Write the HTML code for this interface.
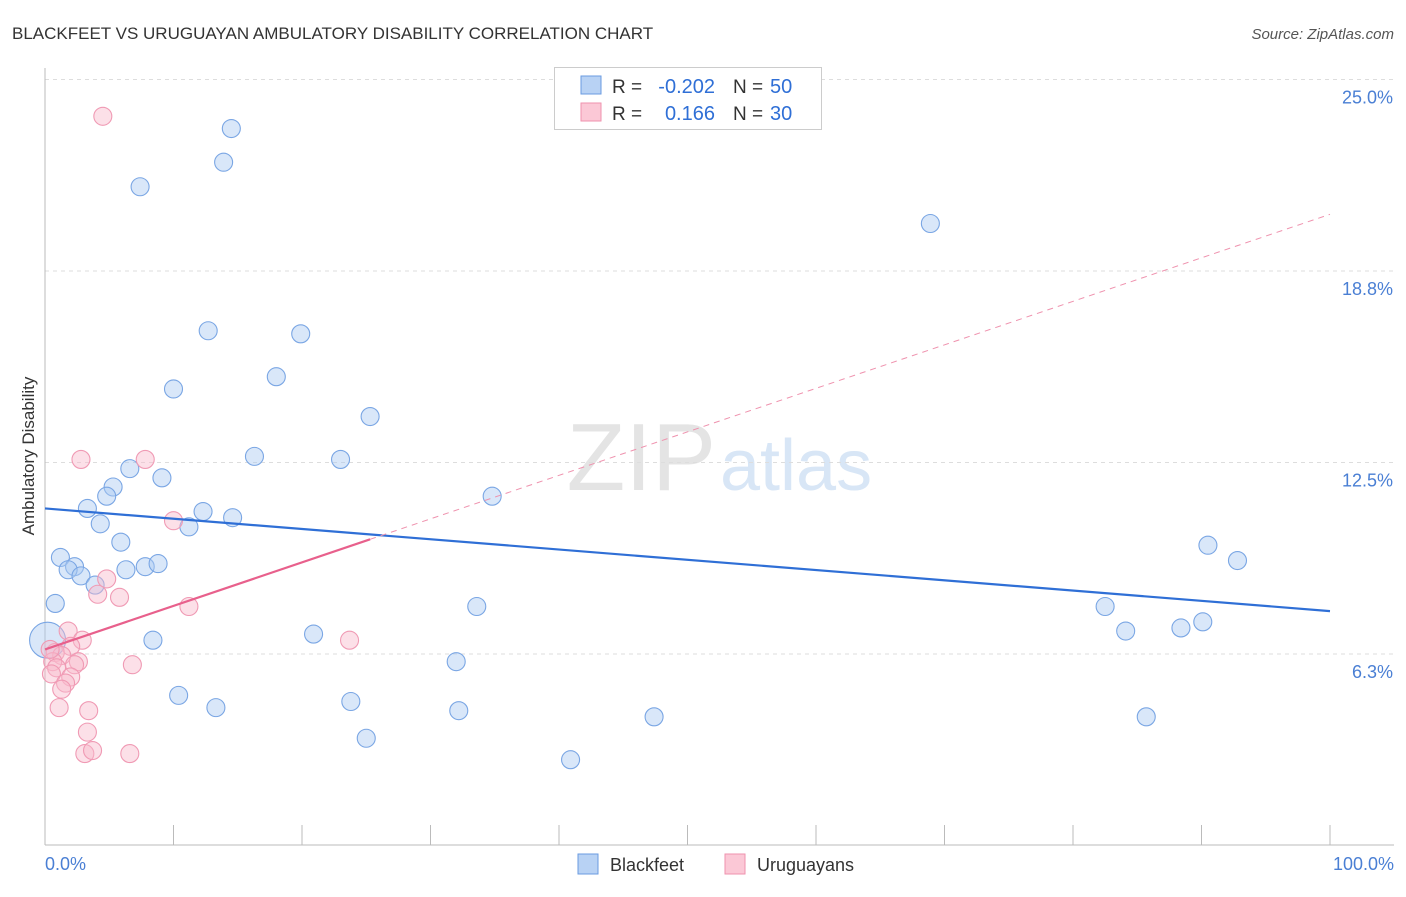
<!DOCTYPE html>
<html><head><meta charset="utf-8"><style>
body{margin:0;background:#fff;font-family:"Liberation Sans",sans-serif;}
svg text{font-family:"Liberation Sans",sans-serif;}
</style></head><body>
<svg width="1406" height="892" xmlns="http://www.w3.org/2000/svg">
<text x="12" y="39" font-size="17" fill="#333">BLACKFEET VS URUGUAYAN AMBULATORY DISABILITY CORRELATION CHART</text>
<text x="1394" y="39" font-size="15" fill="#555" text-anchor="end" font-style="italic">Source: ZipAtlas.com</text>
<text x="716" y="490" font-size="96" fill="#e4e4e4" text-anchor="end" font-family="Liberation Serif">ZIP</text>
<text x="720" y="490" font-size="72" fill="#d8e6f6">atlas</text>
<g id="grid"></g>
<g id="axes"></g>
<g id="pts"></g>
<g id="lines"></g>
<text transform="translate(34,456) rotate(-90)" font-size="17" fill="#333" text-anchor="middle">Ambulatory Disability</text>
<text x="45" y="870" font-size="18" fill="#4a7fd4">0.0%</text>
<text x="1394" y="870" font-size="18" fill="#4a7fd4" text-anchor="end">100.0%</text>
<g>
<rect x="554.5" y="67.5" width="267" height="62" fill="#fff" stroke="#ccc"/>
<rect x="581" y="76" width="20" height="18" fill="#b8d2f4" stroke="#6a9be0"/>
<rect x="581" y="103" width="20" height="18" fill="#fbc8d6" stroke="#ef92ae"/>
<text x="612" y="93" font-size="19" fill="#333">R =</text>
<text x="715" y="93" font-size="20" fill="#2f6fd6" text-anchor="end">-0.202</text>
<text x="733" y="93" font-size="19" fill="#333">N =</text>
<text x="770" y="93" font-size="20" fill="#2f6fd6">50</text>
<text x="612" y="120" font-size="19" fill="#333">R =</text>
<text x="715" y="120" font-size="20" fill="#2f6fd6" text-anchor="end">0.166</text>
<text x="733" y="120" font-size="19" fill="#333">N =</text>
<text x="770" y="120" font-size="20" fill="#2f6fd6">30</text>
</g>
<g>
<rect x="578" y="854" width="20" height="20" fill="#b8d2f4" stroke="#6a9be0"/>
<text x="610" y="871" font-size="18" fill="#333">Blackfeet</text>
<rect x="725" y="854" width="20" height="20" fill="#fbc8d6" stroke="#ef92ae"/>
<text x="757" y="871" font-size="18" fill="#333">Uruguayans</text>
</g>
</svg>
<script>
const yTicks=[6.25,12.5,18.75,25];
const yTickLabels=["6.3%","12.5%","18.8%","25.0%"];
const xTicks=[0,10,20,30,40,50,60,70,80,90,100];
const blackX=[7.4,13.9,14.5,68.9,12.7,19.9,10.0,18.0,25.3,16.3,23.0,6.6,9.1,5.3,4.8,34.8,3.3,12.3,14.6,4.3,11.2,5.9,90.5,1.2,92.8,2.3,1.8,6.3,7.8,8.8,2.8,3.9,0.8,33.6,82.5,8.4,20.9,84.1,88.4,90.1,0.2,32.0,10.4,23.8,13.3,32.2,47.4,85.7,25.0,40.9];
const blackY=[21.5,22.3,23.4,20.3,16.8,16.7,14.9,15.3,14.0,12.7,12.6,12.3,12.0,11.7,11.4,11.4,11.0,10.9,10.7,10.5,10.4,9.9,9.8,9.4,9.3,9.1,9.0,9.0,9.1,9.2,8.8,8.5,7.9,7.8,7.8,6.7,6.9,7.0,7.1,7.3,6.7,6.0,4.9,4.7,4.5,4.4,4.2,4.2,3.5,2.8];
const urugX=[4.5,2.8,7.8,10.0,4.8,4.1,5.8,11.2,1.8,2.9,2.0,23.7,0.8,1.3,2.6,2.3,6.8,0.6,0.9,0.5,2.0,1.6,1.3,1.1,3.4,3.3,3.1,3.7,6.6,0.4];
const urugY=[23.8,12.6,12.6,10.6,8.7,8.2,8.1,7.8,7.0,6.7,6.5,6.7,6.3,6.2,6.0,5.9,5.9,6.0,5.8,5.6,5.5,5.3,5.1,4.5,4.4,3.7,3.0,3.1,3.0,6.4];
const blackTrend=[11.0,7.65];
const urugTrend=[6.4,20.6];
const urugSolidEnd=25.3;
const NS="http://www.w3.org/2000/svg";
const sx=v=>45+v*12.85;
const sy=v=>845.5-v*30.64;
function mk(t,a,p){const e=document.createElementNS(NS,t);for(const k in a)e.setAttribute(k,a[k]);document.getElementById(p).appendChild(e);return e;}
yTicks.forEach((t,i)=>{
 const l=mk('line',{x1:45,x2:1394,y1:sy(t),y2:sy(t),stroke:'#ddd','stroke-dasharray':'4,4'},'grid');
 
 
 const tx=mk('text',{x:1393,y:sy(t)+24,'font-size':18,fill:'#4a7fd4','text-anchor':'end'},'grid');
 tx.textContent=yTickLabels[i];
 
 
});
const ax=mk('line',{x1:45,x2:45,y1:68,y2:845,stroke:'#bbb'},'axes');


const bx=mk('line',{x1:45,x2:1394,y1:845,y2:845,stroke:'#bbb'},'axes');


xTicks.forEach(t=>{
 const l=mk('line',{x1:sx(t),x2:sx(t),y1:825,y2:845,stroke:'#bbb'},'axes');
 
 
});
blackX.forEach((x,i)=>{
 const c=mk('circle',{cx:sx(x),cy:sy(blackY[i]),r:(i==40?18:9),fill:'rgba(170,202,242,0.45)',stroke:'#7aa6e4','stroke-width':1.1},'pts');
 
 
});
urugX.forEach((x,i)=>{
 const c=mk('circle',{cx:sx(x),cy:sy(urugY[i]),r:9,fill:'rgba(248,186,204,0.45)',stroke:'#f09ab4','stroke-width':1.1},'pts');
 
 
});
const bl=mk('line',{x1:sx(0),y1:sy(blackTrend[0]),x2:sx(100),y2:sy(blackTrend[1]),stroke:'#2f6fd6','stroke-width':2.2},'lines');


const uAt=x=>urugTrend[0]+(urugTrend[1]-urugTrend[0])*x/100;
const ud=mk('line',{x1:sx(urugSolidEnd),y1:sy(uAt(urugSolidEnd)),x2:sx(100),y2:sy(urugTrend[1]),stroke:'#ef92ae','stroke-width':1,'stroke-dasharray':'6,5'},'lines');


const us=mk('line',{x1:sx(0),y1:sy(urugTrend[0]),x2:sx(urugSolidEnd),y2:sy(uAt(urugSolidEnd)),stroke:'#e8608c','stroke-width':2.2},'lines');


</script>
</body></html>
